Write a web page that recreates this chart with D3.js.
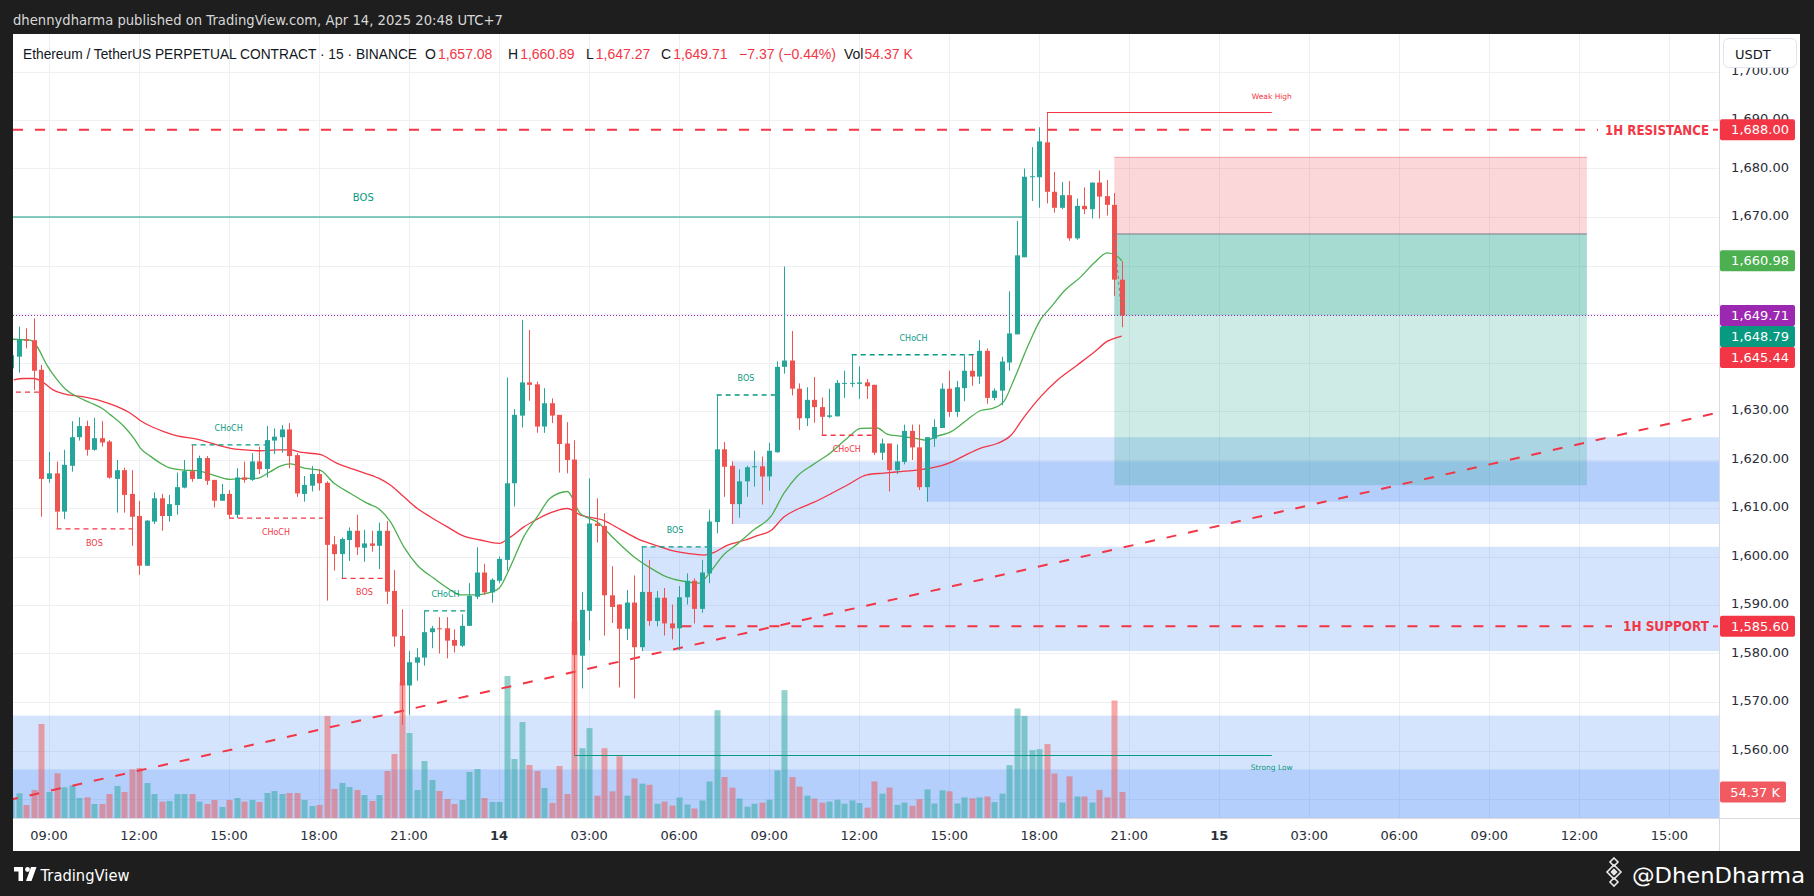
<!DOCTYPE html>
<html><head><meta charset="utf-8">
<script src="https://cdn.jsdelivr.net/npm/d3@7"></script>
<style>
html,body{margin:0;padding:0;background:#1e1e1e;overflow:hidden;}
svg{display:block;}
text{font-family:"DejaVu Sans","Liberation Sans",sans-serif;}
text.lg{font-family:"Liberation Sans",Arial,sans-serif;}
</style></head><body>
<svg id="c" width="1814" height="896"></svg>
<script>
// ---------------- DATA ----------------
// bar index 0 = 13 Apr 09:00 (15-minute bars); first visible bar is index -5
const firstBar = -5;
const opens = [
1638.8,1641.2,1644.8,1644.6,1638.5,1616.0,1617.15,1609.25,1618.7,1624.6,
1626.9,1622.0,1624.4,1623.7,1616.0,1617.8,1612.9,1608.35,1598.1,1607.2,
1612.0,1608.35,1610.6,1614.2,1617.6,1616.0,1620.3,1615.8,1611.5,1612.9,
1608.6,1616.3,1615.8,1619.6,1618.05,1623.9,1624.6,1626.2,1620.9,1612.9,
1614.6,1617.0,1615.2,1602.5,1600.5,1603.4,1605.3,1601.8,1602.7,1602.2,
1605.3,1592.9,1583.6,1573.4,1578.1,1579.15,1584.4,1585.2,1585.2,1582.8,
1581.6,1585.7,1591.7,1596.7,1592.6,1595.0,1599.3,1615.1,1629.05,1635.9,
1635.5,1626.8,1631.6,1629.2,1623.3,1620.0,1579.55,1588.8,1606.8,1606.3,
1592.0,1590.1,1585.1,1590.5,1581.3,1592.7,1586.7,1591.5,1586.2,1585.2,
1591.6,1595.0,1589.2,1596.5,1607.1,1622.1,1618.7,1610.8,1615.5,1618.4,
1618.6,1616.5,1621.5,1639.1,1640.4,1634.6,1628.5,1632.3,1630.8,1628.8,
1628.9,1635.6,1635.6,1635.6,1635.9,1635.4,1621.4,1623.3,1617.8,1619.5,
1625.9,1622.5,1614.3,1624.3,1626.5,1634.6,1629.8,1634.7,1638.3,1637.1,
1642.4,1632.7,1634.2,1640.0,1645.8,1661.7,1678.3,1678.2,1685.4,1675.2,
1671.9,1674.5,1665.6,1672.3,1671.6,1677.1,1674.3,1672.5,1657.08];
const highs = [
1646.5,1647.4,1647.05,1649.1,1639.5,1621.6,1619.55,1622.0,1627.9,1628.7,
1628.0,1628.6,1627.9,1624.0,1619.9,1618.3,1617.8,1611.45,1607.5,1613.2,
1612.9,1612.7,1617.3,1619.9,1623.0,1620.8,1620.7,1615.8,1614.95,1613.7,
1618.2,1619.55,1621.3,1622.65,1626.9,1626.4,1627.1,1627.5,1621.3,1616.6,
1618.65,1618.0,1615.5,1604.2,1603.9,1606.0,1608.6,1605.5,1605.3,1607.0,
1607.3,1597.2,1589.1,1580.5,1581.1,1588.8,1585.7,1587.5,1587.5,1585.0,
1588.1,1594.5,1601.9,1598.5,1595.5,1600.0,1636.9,1630.4,1648.8,1646.7,
1636.05,1634.7,1632.6,1629.2,1627.7,1624.0,1592.7,1616.1,1612.0,1608.9,
1598.0,1590.1,1593.1,1596.1,1602.0,1599.3,1592.9,1593.5,1590.1,1593.9,
1596.5,1595.5,1599.3,1609.7,1633.3,1623.6,1619.6,1618.0,1618.7,1621.8,
1620.6,1623.4,1640.2,1659.8,1646.5,1635.7,1634.9,1637.0,1632.8,1634.6,
1636.4,1638.3,1641.7,1639.2,1636.6,1635.4,1624.3,1623.3,1623.1,1627.2,
1627.2,1627.2,1624.6,1628.3,1635.7,1638.3,1636.2,1641.5,1641.5,1644.6,
1642.9,1634.7,1641.2,1654.7,1669.2,1680.0,1684.4,1688.5,1691.6,1679.3,
1677.2,1677.4,1673.8,1676.1,1677.1,1679.6,1677.6,1674.95,1660.89];
const lows = [
1637.5,1637.9,1642.9,1634.3,1608.2,1615.2,1605.7,1607.7,1617.5,1623.9,
1620.8,1621.8,1622.65,1616.05,1609.05,1609.05,1602.2,1596.2,1598.1,1606.7,
1605.3,1607.2,1608.6,1614.05,1615.4,1616.0,1614.75,1610.1,1611.5,1607.9,
1607.9,1615.2,1615.6,1617.0,1616.3,1621.1,1621.4,1618.2,1612.3,1611.3,
1613.4,1613.6,1590.9,1597.1,1595.5,1599.1,1600.3,1598.9,1601.0,1597.4,
1590.2,1581.4,1565.3,1567.3,1574.4,1577.5,1581.1,1580.0,1579.0,1580.2,
1581.3,1585.7,1591.2,1592.1,1590.5,1594.5,1597.1,1610.3,1626.6,1632.1,
1625.5,1625.5,1627.5,1617.3,1617.15,1559.0,1572.8,1582.7,1602.9,1583.7,
1586.3,1573.0,1582.8,1570.7,1580.5,1585.7,1585.6,1583.7,1582.9,1580.7,
1590.1,1586.2,1588.4,1594.5,1604.8,1612.3,1606.7,1608.0,1612.3,1614.4,
1610.7,1613.6,1621.4,1637.7,1633.2,1626.1,1626.9,1627.6,1625.0,1628.5,
1628.9,1632.7,1634.9,1632.5,1632.5,1620.9,1619.9,1613.4,1617.0,1619.0,
1619.9,1613.7,1611.3,1622.6,1626.5,1628.8,1628.8,1632.0,1635.2,1635.6,
1631.5,1632.2,1631.2,1638.3,1645.8,1661.7,1673.3,1671.9,1672.8,1670.9,
1671.6,1665.1,1665.3,1670.6,1669.7,1669.7,1670.3,1653.7,1647.27];
const closes = [
1641.5,1644.8,1644.5,1638.3,1616.0,1617.15,1609.25,1618.9,1624.6,1626.9,
1622.0,1624.4,1623.5,1616.25,1617.8,1612.7,1608.2,1598.1,1607.4,1612.0,
1608.35,1610.8,1614.3,1617.6,1616.0,1620.3,1615.6,1611.5,1612.9,1608.6,
1616.3,1615.8,1619.6,1618.0,1624.0,1624.7,1626.2,1620.7,1613.0,1614.75,
1617.0,1615.1,1602.4,1600.5,1603.6,1605.3,1601.9,1602.7,1602.2,1605.3,
1592.75,1583.5,1573.4,1578.2,1579.2,1584.4,1585.2,1585.0,1582.65,1581.6,
1585.7,1591.9,1596.7,1592.6,1595.2,1599.5,1615.1,1629.2,1635.9,1635.4,
1626.8,1631.6,1629.05,1623.2,1619.9,1579.7,1589.0,1606.8,1606.3,1592.0,
1589.6,1585.1,1590.5,1581.3,1592.7,1586.7,1591.5,1586.2,1585.2,1591.6,
1595.0,1589.2,1596.7,1607.2,1622.1,1618.5,1610.8,1615.5,1618.4,1618.6,
1616.5,1621.8,1639.1,1640.4,1634.6,1628.5,1632.3,1630.8,1628.8,1629.1,
1635.8,1635.8,1635.8,1635.9,1635.1,1621.4,1623.3,1617.8,1619.6,1625.9,
1622.5,1614.3,1624.6,1626.7,1634.6,1629.8,1634.9,1638.3,1637.1,1642.4,
1632.7,1634.2,1640.2,1646.0,1662.1,1678.3,1678.4,1685.6,1675.2,1671.9,
1674.5,1665.6,1672.3,1671.6,1677.1,1674.2,1672.5,1657.08,1649.71];
const volumesK = [
41,51.6,27.2,58.6,196.7,54.4,93.4,64.2,68.3,41.8,
43.2,29.3,29.3,50.2,66.9,54.4,101.8,104.6,73.2,50.2,
34.2,35.6,50.2,50.2,50.2,34.2,29.3,37.7,23.0,37.7,
41.8,34.2,37.7,33.5,52.3,56.5,50.2,52.3,52.3,37.7,
25.1,27.2,213.4,60.7,73.2,64.9,58.6,48.1,35.6,48.1,
98.3,133.9,283.8,177.8,58.6,119.2,79.5,56.5,39.7,29.3,
37.7,96.2,102.5,41.8,33.5,33.5,297.1,123.4,200.8,110.9,
98.3,62.8,31.4,108.8,50.2,412,146,188,46.6,146,
55.8,129.1,46.6,82.6,71.8,69.5,29.8,34.4,26.0,42.8,
28.3,19.9,36.7,76.4,225.5,85.6,63.4,40.5,23.7,29.8,
32.1,38.2,99.4,267.5,85.6,65.7,46.6,40.5,32.1,34.4,
38.2,29.8,36.7,31.2,21.5,76.4,50.9,63.6,27.4,32.3,
25.5,39.2,59.7,30.3,57.8,55.8,30.3,43.1,41.1,43.1,
45.0,33.3,50.9,110.6,229,213.4,142,143.9,154.6,93.0,
32.3,87.1,45.0,45.0,32.3,58.7,43.1,245.7,54.37];

// moving averages (bar index, value)
const fastMaBars = [-5,-2.5,-1.6,-0.3,1.1,2.2,3.7,5.5,7.1,8.2,10,11.3,12.2,13.5,14.9,16.2,18,19.7,21.5,23.3,24.2,26,27.7,29.5,30.9,32.2,34,36.1,38,40.2,42.4,44,45.5,47.3,49.1,51.3,53.5,54.8,57.1,58.8,60,61.5,63.3,65.1,66.8,69.1,70.8,73.1,75.3,78,80.2,82.4,84.2,86.6,88.2,89.9,91.7,94,96.2,98,99.7,102,104.2,106.4,108.2,110.4,111.7,113.5,115.7,117,118.4,120.2,122.4,124.2,125.9,127.3,128.6,130.4,132.2,133.5,135.3,137.5,139.3,141.1,142.4,143];
const fastMaVals = [1644.8,1644.6,1643.3,1639.5,1636.4,1634.5,1633.0,1631.7,1630.5,1629.2,1626.8,1624.4,1622.3,1620.7,1619.2,1618.2,1617.8,1617.7,1617.0,1616.1,1615.9,1616.1,1616.1,1617.5,1618.7,1619.1,1618.2,1617.8,1615.1,1613.0,1611.0,1609.8,1607.2,1602.0,1598.2,1595.5,1593.1,1592.1,1592.1,1592.6,1593.45,1597.9,1604.1,1608.2,1612.0,1613.4,1608.9,1607.1,1603.7,1599.9,1597.6,1595.75,1595.0,1594.5,1596.9,1600.3,1602.5,1605.55,1608.2,1613.1,1616.5,1619.1,1621.4,1624.4,1626.4,1626.5,1625.25,1624.8,1624.3,1624.0,1624.8,1625.7,1628.2,1630.1,1630.6,1632.0,1636.35,1643.1,1648.9,1651.3,1654.7,1657.6,1660.5,1662.6,1661.9,1660.98];
const slowMaBars = [-4.7,-3.4,-2,-0.7,0.6,2.4,4.2,6.9,9.1,10.9,12.2,13.5,15.3,17.1,19.7,22.4,24.2,26,28.2,30.4,32.2,33.5,36.1,38.4,41.1,44,45.5,47.3,49.1,50.8,53.1,55.3,57.5,60,61.5,63.3,65.1,66.8,69.1,70.8,74,76.2,78.4,81.1,82.8,85.1,87.3,88.6,90.4,92.6,94.4,96.2,98,99.7,102,104.2,106.6,109,111.3,113.5,115.7,117.5,120.2,121.9,124.2,126.4,128.2,129.9,132.2,134.4,137,139.3,141.1,142.4,143];
const slowMaVals = [1636.4,1636.7,1636.7,1635.8,1634.3,1633.4,1633.0,1632.1,1630.9,1629.5,1628.0,1626.9,1625.75,1624.85,1624.2,1623.0,1622.3,1622.0,1621.8,1622.0,1622.0,1621.5,1621.05,1619.2,1617.7,1616.1,1614.75,1612.3,1609.9,1608.2,1606.1,1604.2,1603.4,1602.7,1604.0,1606.1,1607.7,1609.0,1609.9,1608.6,1607.4,1605.55,1603.7,1602.2,1601.3,1600.65,1600.3,1600.8,1602.3,1603.3,1604.3,1605.3,1608.2,1609.7,1611.2,1612.9,1614.9,1616.85,1617.2,1617.5,1617.8,1618.2,1619.4,1620.7,1622.35,1623.3,1624.95,1628.6,1632.97,1636.35,1639.4,1642.1,1644.4,1645.2,1645.44];

// market structure (dashed) lines
const structType  = ["BOS","CHoCH","CHoCH","BOS","CHoCH","BOS","BOS","CHoCH","CHoCH"];
const structDir   = ["bear","bull","bear","bear","bull","bull","bull","bear","bull"];
const structFrom  = [1,19,24,39,50,79,89,103,107];
const structTo    = [11.1,28.9,36.5,45.1,55.7,87.9,96.8,109.7,123.5];
const structPrice = [1605.7,1623.0,1607.9,1595.5,1588.8,1602.0,1633.3,1625.0,1641.6];
const swingBos = {from:-46, to:129.8, price:1670.0, label:"BOS"};
const minorLine = {from:-8, to:-1.2, price:1633.9};
const weakHigh = {from:133, to:163, price:1691.6, label:"Weak High"};
const strongLow = {from:70, to:163, price:1559.0, label:"Strong Low"};

// order-block zones (start bar, top, bottom) extending right
const zoneStart  = [-10,-10,79,91,117];
const zoneTop    = [1567.2,1556.1,1602.0,1619.6,1624.6];
const zoneBottom = [1540,1540,1580.5,1606.7,1611.3];

// horizontal levels and trend line
const resistance = {price:1688.00, label:"1H RESISTANCE"};
const support = {price:1585.60, from:84.3, label:"1H SUPPORT"};
const trendBars = [-5,143];
const trendVals = [1549.9,1601.8];

// short position tool
const position = {from:142, to:205, entry:1666.5, stop:1682.4, target:1614.7};
const extraPrice = 1648.79;

// axes
const priceTicks = [1550,1560,1570,1580,1590,1600,1610,1620,1630,1640,1650,1660,1670,1680,1690,1700];
const timeTickBars = [0,12,24,36,48,60,72,84,96,108,120,132,144,156,168,180,192,204,216];
const timeTickLabels = ["09:00","12:00","15:00","18:00","21:00","14","03:00","06:00","09:00","12:00","15:00","18:00","21:00","15","03:00","06:00","09:00","12:00","15:00"];
const timeTickBold = [false,false,false,false,false,true,false,false,false,false,false,false,false,true,false,false,false,false,false];

const headerText = "dhennydharma published on TradingView.com, Apr 14, 2025 20:48 UTC+7";
const symbolText = "Ethereum / TetherUS PERPETUAL CONTRACT · 15 · BINANCE";

// ---------------- DRAW ----------------
const svg = d3.select('#c');
const X0 = 13, X1 = 1719, Y0 = 34, Y1 = 818, AXR = 1800, AXB = 851;
const UP = '#26a69a', DN = '#ef5350', RED = '#f23645', TEAL = '#089981';
const x = d3.scaleLinear().domain([0, 216]).range([49, 1669.4]);
const y = d3.scaleLinear().domain([1550, 1690]).range([799, 120]);
const yv = d3.scaleLinear().domain([0, 1640]).range([Y1, Y0]);
const bars = opens.map((_, k) => firstBar + k);

svg.append('rect').attr('width', 1814).attr('height', 896).attr('fill', '#1e1e1e');
svg.append('rect').attr('x', X0).attr('y', Y0).attr('width', AXR - X0).attr('height', AXB - Y0).attr('fill', '#fff');

const defs = svg.append('defs');
defs.append('clipPath').attr('id', 'clip').append('rect')
  .attr('x', X0).attr('y', Y0).attr('width', X1 - X0).attr('height', Y1 - Y0);

const plot = svg.append('g').attr('clip-path', 'url(#clip)');

// grid
const grid = plot.append('g').attr('stroke', '#eef0f3').attr('stroke-width', 1);
timeTickBars.forEach(b => {
  const xx = Math.round(x(b)) + 0.5;
  grid.append('line').attr('x1', xx).attr('x2', xx).attr('y1', Y0).attr('y2', Y1);
});
priceTicks.forEach(p => {
  const yy = Math.round(y(p)) + 0.5;
  grid.append('line').attr('x1', X0).attr('x2', X1).attr('y1', yy).attr('y2', yy);
});

// zones
const zg = plot.append('g');
zoneStart.forEach((s, k) => {
  zg.append('rect').attr('x', x(s)).attr('width', X1 - x(s))
    .attr('y', y(zoneTop[k])).attr('height', y(zoneBottom[k]) - y(zoneTop[k]))
    .attr('fill', 'rgba(66,133,244,0.22)');
});

// position tool
const px0 = x(position.from), px1 = x(position.to);
const lastClose = closes[closes.length - 1];
plot.append('rect').attr('x', px0).attr('width', px1 - px0)
  .attr('y', y(position.stop)).attr('height', y(position.entry) - y(position.stop))
  .attr('fill', 'rgba(242,54,69,0.2)');
plot.append('line').attr('x1', px0).attr('x2', px1).attr('y1', y(position.stop) + 0.5).attr('y2', y(position.stop) + 0.5)
  .attr('stroke', 'rgba(242,54,69,0.35)');
plot.append('rect').attr('x', px0).attr('width', px1 - px0)
  .attr('y', y(position.entry)).attr('height', y(position.target) - y(position.entry))
  .attr('fill', 'rgba(8,153,129,0.2)');
plot.append('rect').attr('x', px0).attr('width', px1 - px0)
  .attr('y', y(position.entry)).attr('height', y(lastClose) - y(position.entry))
  .attr('fill', 'rgba(8,153,129,0.2)');
plot.append('line').attr('x1', px0).attr('x2', px1).attr('y1', y(position.entry)).attr('y2', y(position.entry))
  .attr('stroke', '#787b86').attr('stroke-width', 1);

// volume
const vg = plot.append('g');
bars.forEach((b, k) => {
  const cx = Math.round(x(b));
  const up = closes[k] >= opens[k];
  vg.append('rect').attr('x', cx - 2.5).attr('width', 6)
    .attr('y', yv(volumesK[k])).attr('height', Y1 - yv(volumesK[k]))
    .attr('fill', up ? 'rgba(38,166,154,0.5)' : 'rgba(239,83,80,0.5)');
});

// levels
const lg = plot.append('g');
const yr = y(resistance.price);
lg.append('line').attr('x1', X0).attr('x2', 1598).attr('y1', yr).attr('y2', yr)
  .attr('stroke', RED).attr('stroke-width', 2).attr('stroke-dasharray', '10,12');
lg.append('line').attr('x1', 1713).attr('x2', 1718).attr('y1', yr).attr('y2', yr).attr('stroke', RED).attr('stroke-width', 2);
const ys = y(support.price);
lg.append('line').attr('x1', x(support.from)).attr('x2', 1612).attr('y1', ys).attr('y2', ys)
  .attr('stroke', RED).attr('stroke-width', 2).attr('stroke-dasharray', '10,12');
lg.append('line').attr('x1', 1713).attr('x2', 1718).attr('y1', ys).attr('y2', ys).attr('stroke', RED).attr('stroke-width', 2);
// trend line extended
const tSlope = (trendVals[1] - trendVals[0]) / (trendBars[1] - trendBars[0]);
const tb0 = x.invert(X0 - 5), tb1 = x.invert(X1 + 5);
lg.append('line')
  .attr('x1', x(tb0)).attr('y1', y(trendVals[0] + (tb0 - trendBars[0]) * tSlope))
  .attr('x2', x(tb1)).attr('y2', y(trendVals[0] + (tb1 - trendBars[0]) * tSlope))
  .attr('stroke', RED).attr('stroke-width', 2).attr('stroke-dasharray', '10,12');
// last price dotted line
lg.append('line').attr('x1', X0).attr('x2', X1).attr('y1', Math.round(y(lastClose)) + 0.5).attr('y2', Math.round(y(lastClose)) + 0.5)
  .attr('stroke', '#9c27b0').attr('stroke-width', 1).attr('stroke-dasharray', '1,2');

// moving averages
const line = d3.line().x(d => x(d[0])).y(d => y(d[1])).curve(d3.curveMonotoneX);
plot.append('path').attr('d', line(slowMaBars.map((b, k) => [b, slowMaVals[k]])))
  .attr('fill', 'none').attr('stroke', RED).attr('stroke-width', 1.3);
plot.append('path').attr('d', line(fastMaBars.map((b, k) => [b, fastMaVals[k]])))
  .attr('fill', 'none').attr('stroke', '#4caf50').attr('stroke-width', 1.3);

// structures
const sg = plot.append('g');
structType.forEach((t, k) => {
  const col = structDir[k] === 'bull' ? TEAL : RED;
  const yy = y(structPrice[k]);
  sg.append('line').attr('x1', x(structFrom[k])).attr('x2', x(structTo[k])).attr('y1', yy).attr('y2', yy)
    .attr('stroke', col).attr('stroke-width', 1.3).attr('stroke-dasharray', '5,4');
  const cy = structDir[k] === 'bull' ? yy - 16.5 : yy + 14.2;
  sg.append('text').attr('x', (x(structFrom[k]) + x(structTo[k])) / 2).attr('y', cy).attr('dy', '0.35em')
    .attr('text-anchor', 'middle').attr('font-size', 8).attr('fill', col).text(t);
});
sg.append('line').attr('x1', x(minorLine.from)).attr('x2', x(minorLine.to))
  .attr('y1', y(minorLine.price)).attr('y2', y(minorLine.price))
  .attr('stroke', RED).attr('stroke-width', 1.3).attr('stroke-dasharray', '5,4');
sg.append('line').attr('x1', x(swingBos.from)).attr('x2', x(swingBos.to))
  .attr('y1', y(swingBos.price)).attr('y2', y(swingBos.price)).attr('stroke', TEAL).attr('stroke-width', 1);
sg.append('text').attr('x', (x(swingBos.from) + x(swingBos.to)) / 2).attr('y', y(swingBos.price) - 20).attr('dy', '0.35em')
  .attr('text-anchor', 'middle').attr('font-size', 10).attr('fill', TEAL).text(swingBos.label);
sg.append('line').attr('x1', x(weakHigh.from)).attr('x2', x(weakHigh.to))
  .attr('y1', Math.round(y(weakHigh.price)) + 0.5).attr('y2', Math.round(y(weakHigh.price)) + 0.5).attr('stroke', RED).attr('stroke-width', 1);
sg.append('text').attr('x', x(weakHigh.to)).attr('y', y(weakHigh.price) - 16).attr('dy', '0.35em')
  .attr('text-anchor', 'middle').attr('font-size', 7.5).attr('fill', RED).text(weakHigh.label);
sg.append('line').attr('x1', x(strongLow.from)).attr('x2', x(strongLow.to))
  .attr('y1', Math.round(y(strongLow.price)) + 0.5).attr('y2', Math.round(y(strongLow.price)) + 0.5).attr('stroke', TEAL).attr('stroke-width', 1);
sg.append('text').attr('x', x(strongLow.to)).attr('y', y(strongLow.price) + 12).attr('dy', '0.35em')
  .attr('text-anchor', 'middle').attr('font-size', 7.5).attr('fill', TEAL).text(strongLow.label);

// candles
const cg = plot.append('g');
bars.forEach((b, k) => {
  const cx = Math.round(x(b));
  const up = closes[k] >= opens[k];
  const col = up ? UP : DN;
  cg.append('line').attr('x1', cx + 0.5).attr('x2', cx + 0.5).attr('y1', y(highs[k])).attr('y2', y(lows[k]))
    .attr('stroke', col).attr('stroke-width', 1);
  const yt = Math.min(y(opens[k]), y(closes[k]));
  const h = Math.max(1, Math.abs(y(opens[k]) - y(closes[k])));
  cg.append('rect').attr('x', cx - 2).attr('width', 5).attr('y', yt).attr('height', h).attr('fill', col);
});
// position tool dashed connector
plot.append('line').attr('x1', x(position.from)).attr('y1', y(position.entry))
  .attr('x2', x(bars[bars.length - 1])).attr('y2', y(lastClose))
  .attr('stroke', '#787b86').attr('stroke-width', 1).attr('stroke-dasharray', '3,3');

// level labels
svg.append('text').attr('x', 1709).attr('y', yr).attr('dy', '0.36em').attr('text-anchor', 'end')
  .attr('font-size', 14).attr('font-weight', 600).attr('fill', RED)
  .attr('textLength', 104).attr('lengthAdjust', 'spacingAndGlyphs').text(resistance.label);
svg.append('text').attr('x', 1709).attr('y', ys).attr('dy', '0.36em').attr('text-anchor', 'end')
  .attr('font-size', 14).attr('font-weight', 600).attr('fill', RED)
  .attr('textLength', 86).attr('lengthAdjust', 'spacingAndGlyphs').text(support.label);

// frame lines
svg.append('line').attr('x1', X1 + 0.5).attr('x2', X1 + 0.5).attr('y1', Y0).attr('y2', AXB).attr('stroke', '#d9dbe0');
svg.append('line').attr('x1', X0).attr('x2', AXR).attr('y1', Y1 + 0.5).attr('y2', Y1 + 0.5).attr('stroke', '#d9dbe0');

// badges (computed first so covered axis labels can be skipped)
const fmt = d3.format(',.2f');
const lastVol = volumesK[volumesK.length - 1];
const badges = [
  {v: resistance.price, c: RED},
  {v: fastMaVals[fastMaVals.length - 1], c: '#4caf50'},
  {v: lastClose, c: '#9c27b0'},
  {v: extraPrice, c: TEAL},
  {v: slowMaVals[slowMaVals.length - 1], c: RED},
  {v: support.price, c: RED}
].map(d => ({...d, yc: y(d.v)})).sort((a, b) => a.yc - b.yc);
let lastBottom = -1e9;
badges.forEach(d => {
  let top = d.yc - 10.5;
  if (top < lastBottom) top = lastBottom;
  lastBottom = top + 21;
  d.top = top;
});
const vyc = yv(lastVol);
const covers = badges.map(d => d.top + 10.5).concat([vyc]);

// price axis labels
const ax = svg.append('g');
priceTicks.forEach(p => {
  const ly = y(p) - 1.5;
  if (covers.some(c => Math.abs(c - ly) < 8)) return;
  ax.append('text').attr('x', 1789).attr('y', ly).attr('dy', '0.36em').attr('text-anchor', 'end')
    .attr('font-size', 13).attr('fill', '#2a2e39').text(fmt(p));
});
badges.forEach(d => {
  ax.append('rect').attr('x', X1 + 1).attr('y', d.top).attr('width', 75).attr('height', 21).attr('rx', 2).attr('fill', d.c);
  ax.append('text').attr('x', 1789).attr('y', d.top + 10.5).attr('dy', '0.36em').attr('text-anchor', 'end')
    .attr('font-size', 13).attr('fill', '#fff').text(fmt(d.v));
});
ax.append('rect').attr('x', X1 + 1).attr('y', vyc - 10.5).attr('width', 66).attr('height', 21).attr('rx', 2).attr('fill', '#f05a60');
ax.append('text').attr('x', 1780).attr('y', vyc).attr('dy', '0.36em').attr('text-anchor', 'end')
  .attr('font-size', 13).attr('fill', '#fff').text(lastVol.toFixed(2) + ' K');

// USDT button
ax.append('rect').attr('x', 1723.5).attr('y', 38.5).attr('width', 73).attr('height', 29).attr('rx', 5)
  .attr('fill', '#fff').attr('stroke', '#e0e3eb');
ax.append('text').attr('x', 1735).attr('y', 58.5).attr('font-size', 13).attr('fill', '#131722').text('USDT');

// time axis
timeTickBars.forEach((b, k) => {
  svg.append('text').attr('x', x(b)).attr('y', 835).attr('dy', '0.36em').attr('text-anchor', 'middle')
    .attr('font-size', 13).attr('font-weight', timeTickBold[k] ? 'bold' : 'normal').attr('fill', '#2a2e39').text(timeTickLabels[k]);
});

// header
svg.append('text').attr('x', 13).attr('y', 25).attr('font-size', 14).attr('fill', '#d8d8d8')
  .attr('textLength', 490).attr('lengthAdjust', 'spacingAndGlyphs').text(headerText);

// legend
const n = closes.length;
const chg = closes[n - 1] - closes[n - 2];
const pct = chg / closes[n - 2] * 100;
const minus = s => s.replace('-', '\u2212');
const lgd = svg.append('g').attr('font-size', 14);
lgd.append('text').attr('class', 'lg').attr('x', 23).attr('y', 59).attr('fill', '#131722')
  .attr('textLength', 394).attr('lengthAdjust', 'spacingAndGlyphs').text(symbolText);
const ohlc = [['O', opens[n - 1], 425], ['H', highs[n - 1], 508], ['L', lows[n - 1], 586], ['C', closes[n - 1], 661]];
ohlc.forEach(([k, v, xx]) => {
  const t = lgd.append('text').attr('class', 'lg').attr('x', xx).attr('y', 59);
  t.append('tspan').attr('fill', '#131722').text(k);
  t.append('tspan').attr('fill', RED).attr('dx', 2).text(fmt(v));
});
lgd.append('text').attr('class', 'lg').attr('x', 739).attr('y', 59).attr('fill', RED)
  .attr('textLength', 97).attr('lengthAdjust', 'spacingAndGlyphs')
  .text(minus(chg.toFixed(2)) + ' (' + minus(pct.toFixed(2)) + '%)');
const vt = lgd.append('text').attr('class', 'lg').attr('x', 844).attr('y', 59);
vt.append('tspan').attr('fill', '#131722').text('Vol');
vt.append('tspan').attr('fill', RED).attr('dx', 1).text(lastVol.toFixed(2) + ' K');

// footer: TradingView logo
const ft = svg.append('g').attr('fill', '#fff');
ft.append('rect').attr('x', 14).attr('y', 867).attr('width', 9).attr('height', 4.5);
ft.append('rect').attr('x', 18.5).attr('y', 867).attr('width', 4.5).attr('height', 14);
ft.append('circle').attr('cx', 27.5).attr('cy', 869.5).attr('r', 2.4);
ft.append('path').attr('d', 'M31 867 L36.5 867 L31.5 881 L26 881 Z');
ft.append('text').attr('x', 40.5).attr('y', 880.5).attr('font-size', 15)
  .attr('textLength', 89).attr('lengthAdjust', 'spacingAndGlyphs').text('TradingView');
// watermark with diamond icon
const ic = svg.append('g').attr('fill', 'none').attr('stroke', '#e8e8e8').attr('stroke-width', 1.6);
ic.append('path').attr('d', 'M1614 858 L1618 862 L1614 866 L1610 862 Z');
ic.append('path').attr('d', 'M1614 865 L1621 872 L1614 879 L1607 872 Z');
ic.append('path').attr('d', 'M1614 878 L1618 882 L1614 886 L1610 882 Z');
ic.append('path').attr('d', 'M1614 869.5 L1616.5 872 L1614 874.5 L1611.5 872 Z').attr('fill', '#e8e8e8');
svg.append('text').attr('x', 1632).attr('y', 883).attr('font-size', 22).attr('fill', '#fff')
  .attr('textLength', 173).attr('lengthAdjust', 'spacingAndGlyphs').text('@DhenDharma');
</script>
</body></html>
